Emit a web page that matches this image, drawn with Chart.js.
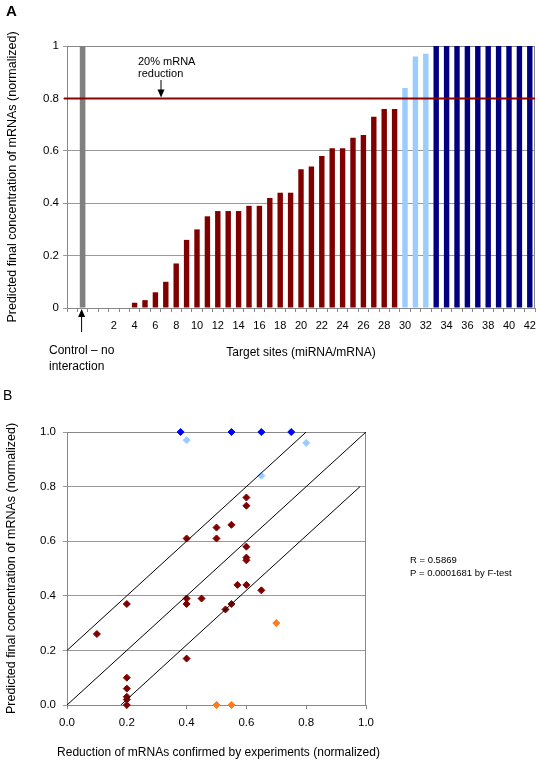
<!DOCTYPE html>
<html>
<head>
<meta charset="utf-8">
<script src="https://cdn.jsdelivr.net/npm/chart.js@4.4.1/dist/chart.umd.min.js"></script>
<style>
  body { margin: 0; background: #fff; }
  #wrap { position: relative; width: 539px; height: 763px; }
  #chartA { position: absolute; left: 0; top: 0; }
  #chartB { position: absolute; left: 0; top: 380px; }
</style>
</head>
<body>
<div id="wrap">
  <canvas id="chartA" width="539" height="380"></canvas>
  <canvas id="chartB" width="539" height="383"></canvas>
</div>
<script>
// ---- panel A data ----
const targetSites = ["0", "1", "2", "3", "4", "5", "6", "7", "8", "9", "10",
  "11", "12", "13", "14", "15", "16", "17", "18", "19", "20",
  "21", "22", "23", "24", "25", "26", "27", "28", "29", "30",
  "31", "32", "33", "34", "35", "36", "37", "38", "39", "40", "41", "42"];
const predictedConc = [0, 0, 0, 0, 0.02, 0.03, 0.06, 0.10, 0.17, 0.26, 0.30,
  0.35, 0.37, 0.37, 0.37, 0.39, 0.39, 0.42, 0.44, 0.44, 0.53,
  0.54, 0.58, 0.61, 0.61, 0.65, 0.66, 0.73, 0.76, 0.76, 0.84,
  0.96, 0.97, 1, 1, 1, 1, 1, 1, 1, 1, 1, 1];
const controlConc = 1;
const reductionLevel = 0.8; // 20% mRNA reduction
const yTicksA = [0, 0.2, 0.4, 0.6, 0.8, 1];

// ---- panel B data ----
const reducedExp  = [0.40, 0.50, 0.50, 0.55, 0.60, 0.60, 0.60, 0.60, 0.60, 0.57, 0.60, 0.65, 0.40,
  0.45, 0.40, 0.55, 0.53, 0.40, 0.20, 0.10, 0.20, 0.20, 0.20, 0.20, 0.20];
const reducedPred = [0.61, 0.65, 0.61, 0.66, 0.76, 0.73, 0.58, 0.54, 0.53, 0.44, 0.44, 0.42, 0.39,
  0.39, 0.37, 0.37, 0.35, 0.17, 0.37, 0.26, 0.10, 0.06, 0.03, 0.02, 0.00];
const noEffectExp  = [0.38, 0.55, 0.65, 0.75];
const noEffectPred = [1, 1, 1, 1];
const partialExp  = [0.40, 0.65, 0.80];
const partialPred = [0.97, 0.84, 0.96];
const missedExp  = [0.50, 0.55, 0.70];
const missedPred = [0.00, 0.00, 0.30];
const guideLines = [
  [[0, 0.2], [0.8, 1]],
  [[0, 0], [1, 1]],
  [[0.18, 0], [0.98, 0.8]]
];
const statR = "R = 0.5869";
const statP = "P = 0.0001681 by F-test";

Chart.defaults.font.family = "'Liberation Sans', Arial, sans-serif";
Chart.defaults.font.size = 11;
Chart.defaults.color = "#000";

const yTitle = "Predicted final concentration of mRNAs (normalized)";
const xTitleB = "Reduction of mRNAs confirmed by experiments (normalized)";

// grey frame round the plot area
const frame = {
  id: "frame",
  beforeDatasetsDraw(chart) {
    const a = chart.chartArea;
    const ctx = chart.ctx;
    ctx.save();
    ctx.strokeStyle = "#888";
    ctx.lineWidth = 1;
    ctx.strokeRect(Math.round(a.left) + 0.5, Math.round(a.top) + 0.5,
      Math.round(a.right - a.left) - 1, Math.round(a.bottom - a.top));
    ctx.restore();
  }
};

function arrow(ctx, x, yFrom, yTip) {
  const dir = yTip > yFrom ? 1 : -1;
  ctx.beginPath();
  ctx.moveTo(x, yFrom);
  ctx.lineTo(x, yTip - dir * 7);
  ctx.stroke();
  ctx.beginPath();
  ctx.moveTo(x - 3.5, yTip - dir * 8);
  ctx.lineTo(x + 3.5, yTip - dir * 8);
  ctx.lineTo(x, yTip);
  ctx.closePath();
  ctx.fill();
}

// red 20% line and notes of panel A
const notesA = {
  id: "notesA",
  afterDatasetsDraw(chart) {
    const {ctx, chartArea, scales} = chart;
    const py = scales.y.getPixelForValue(reductionLevel);
    ctx.save();
    ctx.strokeStyle = "#8b0000";
    ctx.lineWidth = 2;
    ctx.beginPath();
    ctx.moveTo(chartArea.left - 3, py);
    ctx.lineTo(chartArea.right, py);
    ctx.stroke();
    ctx.restore();
  },
  afterDraw(chart) {
    const {ctx, scales} = chart;
    const py = scales.y.getPixelForValue(reductionLevel);
    ctx.save();
    ctx.fillStyle = "#000";
    ctx.strokeStyle = "#000";
    ctx.lineWidth = 1;
    ctx.font = "bold 15px 'Liberation Sans', Arial";
    ctx.fillText("A", 6, 16);
    ctx.font = "11px 'Liberation Sans', Arial";
    ctx.fillText("20% mRNA", 138, 65);
    ctx.fillText("reduction", 138, 77);
    arrow(ctx, 161, 80, py - 1);
    const cx = chart.getDatasetMeta(0).data[1].x - 1;
    arrow(ctx, cx, 332, scales.y.bottom + 1);
    ctx.font = "12px 'Liberation Sans', Arial";
    ctx.fillText("Control \u2013 no", 49, 354);
    ctx.fillText("interaction", 49, 370);
    ctx.restore();
  }
};

const notesB = {
  id: "notesB",
  afterDraw(chart) {
    const {ctx, chartArea} = chart;
    ctx.save();
    ctx.fillStyle = "#000";
    ctx.font = "14px 'Liberation Sans', Arial";
    ctx.fillText("B", 3, 20);
    ctx.font = "9.5px 'Liberation Sans', Arial";
    ctx.fillText(statR, 410, 183);
    ctx.fillText(statP, 410, 196);
    // x axis title, wider than the plot
    ctx.font = "12px 'Liberation Sans', Arial";
    ctx.textAlign = "center";
    ctx.textBaseline = "middle";
    ctx.fillText(xTitleB, (chartArea.left + chartArea.right) / 2 + 2, 373);
    ctx.restore();
  }
};

// ---- chart A ----
const labelsA = ["", "Control"].concat(targetSites);
const controlSeries = labelsA.map((l, i) => (i === 1 ? controlConc : null));
const siteSeries = [null, null].concat(predictedConc);

new Chart(document.getElementById("chartA"), {
  type: "bar",
  data: {
    labels: labelsA,
    datasets: [
      {
        label: "Control",
        data: controlSeries,
        backgroundColor: "#808080",
        grouped: false,
        barPercentage: 0.54,
        categoryPercentage: 1
      },
      {
        label: "Target sites",
        data: siteSeries,
        backgroundColor: (c) => {
          const v = c.raw;
          if (v >= 1) return "#000080";
          if (v > reductionLevel) return "#99ccff";
          return "#800000";
        },
        grouped: false,
        barPercentage: 0.52,
        categoryPercentage: 1
      }
    ]
  },
  options: {
    responsive: false,
    animation: false,
    layout: { padding: { top: 46, right: 4, bottom: 20, left: 0 } },
    plugins: { legend: { display: false }, tooltip: { enabled: false } },
    scales: {
      x: {
        grid: { drawOnChartArea: false, drawTicks: true, tickLength: 4, color: "#888" },
        border: { color: "#888" },
        ticks: {
          autoSkip: false,
          maxRotation: 0,
          padding: 7,
          font: { size: 11 },
          callback: function (value) {
            const l = this.getLabelForValue(value);
            const n = Number(l);
            return l !== "" && !isNaN(n) && n >= 2 && n % 2 === 0 ? l : "";
          }
        },
        title: {
          display: true,
          text: "Target sites (miRNA/mRNA)",
          font: { size: 12 },
          padding: 0
        },
        afterFit(scale) {
          scale.height = 52;
          scale.paddingLeft = 0;
          scale.paddingRight = 0;
        }
      },
      y: {
        min: 0,
        max: 1,
        afterBuildTicks(scale) {
          scale.ticks = yTicksA.map((v) => ({ value: v }));
        },
        grid: { color: "#999", tickLength: 4 },
        border: { color: "#888" },
        ticks: {
          padding: 4,
          font: { size: 11.5 },
          callback: (v) => String(+v.toFixed(1))
        },
        title: {
          display: true,
          text: yTitle,
          font: { size: 12.5 },
          padding: { top: 5, bottom: 0 }
        },
        afterFit(scale) {
          scale.width = 67;
        }
      }
    }
  },
  plugins: [frame, notesA]
});

// ---- chart B ----
const toPoints = (xs, ys) => xs.map((x, i) => ({ x: x, y: ys[i] }));
const lineSets = guideLines.map((seg) => ({
  type: "line",
  data: seg.map((p) => ({ x: p[0], y: p[1] })),
  borderColor: "#000",
  borderWidth: 1,
  pointRadius: 0,
  showLine: true,
  fill: false
}));
const pointSet = (xs, ys, color) => ({
  data: toPoints(xs, ys),
  backgroundColor: color,
  borderColor: color,
  borderWidth: 1,
  pointStyle: "rectRot",
  pointRadius: 3.5,
  clip: false
});

new Chart(document.getElementById("chartB"), {
  type: "scatter",
  data: {
    datasets: lineSets.concat([
      pointSet(reducedExp, reducedPred, "#800000"),
      pointSet(noEffectExp, noEffectPred, "#0000ff"),
      pointSet(partialExp, partialPred, "#99ccff"),
      pointSet(missedExp, missedPred, "#ff7a1a")
    ])
  },
  options: {
    responsive: false,
    animation: false,
    layout: { padding: { top: 52, right: 173, bottom: 3, left: 0 } },
    plugins: { legend: { display: false }, tooltip: { enabled: false } },
    scales: {
      x: {
        type: "linear",
        min: 0,
        max: 1,
        ticks: { stepSize: 0.2, padding: 7, font: { size: 11.5 }, callback: (v) => v.toFixed(1) },
        grid: { drawOnChartArea: false, tickLength: 4, color: "#888" },
        border: { color: "#888" },
        title: { display: false },
        afterFit(scale) {
          scale.height = 55;
          scale.paddingLeft = 0;
          scale.paddingRight = 0;
        }
      },
      y: {
        min: 0,
        max: 1,
        ticks: { stepSize: 0.2, padding: 7, font: { size: 11.5 }, callback: (v) => v.toFixed(1) },
        grid: { color: "#999", tickLength: 4 },
        border: { color: "#888" },
        title: {
          display: true,
          text: yTitle,
          font: { size: 12.5 },
          padding: { top: 4, bottom: 0 }
        },
        afterFit(scale) {
          scale.width = 67;
        }
      }
    }
  },
  plugins: [frame, notesB]
});
</script>
</body>
</html>
